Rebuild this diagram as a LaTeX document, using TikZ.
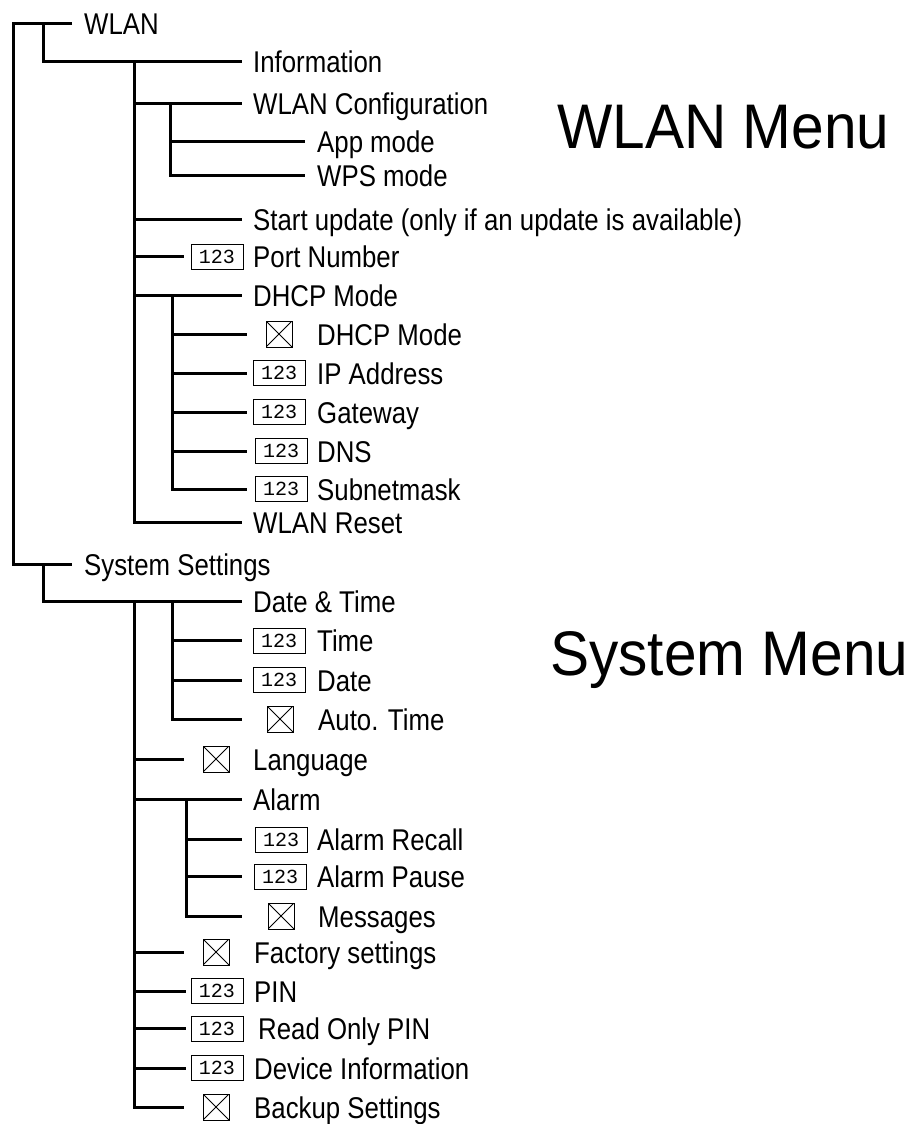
\documentclass[tikz,border=0pt]{standalone}
\usepackage{fontspec}
\setmainfont[FakeStretch=0.86]{Liberation Sans}
\newfontfamily\titlefont[FakeStretch=0.93]{Liberation Sans}
\setmonofont{Liberation Mono}
\begin{document}
\begin{tikzpicture}[x=1pt,y=-1pt,
  conn/.style={line width=3pt},
  lbl/.style={anchor=base west,inner sep=0pt,font=\fontsize{30}{32}\selectfont},
  title/.style={anchor=base west,inner sep=0pt,font=\titlefont\fontsize{63}{70}\selectfont},
  numbox/.style={draw,line width=0.9pt,minimum width=52pt,minimum height=25pt,inner sep=0pt,font=\ttfamily\fontsize{20}{20}\selectfont},
  chkbox/.style={draw,line width=0.9pt,minimum size=26pt,inner sep=0pt,
    path picture={\draw[line width=0.9pt] (path picture bounding box.north west) -- (path picture bounding box.south east)
      (path picture bounding box.north east) -- (path picture bounding box.south west);}}]
\useasboundingbox (0,0) rectangle (915,1124);
\newcommand\mybranch[4]{\coordinate (#1-a) at (#2,#3); \coordinate (#1-b) at (#4,#3); \draw[conn] (#1-a) -- (#1-b);}

% outer trunk
\coordinate (o1) at (72,24); \coordinate (o2) at (13,24); \coordinate (o3) at (13,564); \coordinate (o4) at (72,564);
\draw[conn] (o1) -- (o2) -- (o3) -- (o4);
\node[lbl] (wlan) at (84,35) {WLAN};
\node[lbl] (sys) at (84,575) {System Settings};

% WLAN sub
\coordinate (w0) at (43,24); \coordinate (winfo) at (242,62);
\draw[conn] (w0) |- (winfo);
\node[lbl] (info) at (253,73) {Information};
\coordinate (ta1) at (134,62); \coordinate (ta2) at (134,522); \coordinate (wreset) at (242,522);
\draw[conn] (ta1) -- (ta2) -- (wreset);
\node[lbl] (reset) at (253,533) {WLAN Reset};

\mybranch{wcfg}{134}{103}{242}
\node[lbl] (cfg) at (253,114) {WLAN Configuration};
\coordinate (tb1) at (170,103); \coordinate (tb2) at (170,175); \coordinate (wwps) at (305,175);
\draw[conn] (tb1) -- (tb2) -- (wwps);
\mybranch{wapp}{170}{141}{305}
\node[lbl] (app) at (317,152) {App mode};
\node[lbl] (wps) at (317,186) {WPS mode};

\mybranch{wupd}{134}{219}{242}
\node[lbl] (upd) at (253,230) {Start update (only if an update is available)};

\mybranch{wport}{134}{256}{184}
\node[numbox] (bport) at (217,257) {123};
\node[lbl] (port) at (253,267) {Port Number};

\mybranch{wdhcp}{134}{295}{242}
\node[lbl] (dhcp) at (253,306) {DHCP Mode};
\coordinate (tc1) at (172,295); \coordinate (tc2) at (172,489); \coordinate (wsub) at (247,489);
\draw[conn] (tc1) -- (tc2) -- (wsub);
\mybranch{wdm}{172}{334}{247}
\node[chkbox] (bdm) at (279,334) {};
\node[lbl] (dm) at (317,345) {DHCP Mode};
\mybranch{wip}{172}{373}{247}
\node[numbox] (bip) at (279,373) {123};
\node[lbl] (ip) at (317,384) {IP Address};
\mybranch{wgw}{172}{412}{247}
\node[numbox] (bgw) at (279,412) {123};
\node[lbl] (gw) at (317,423) {Gateway};
\mybranch{wdns}{172}{451}{247}
\node[numbox] (bdns) at (281,451) {123};
\node[lbl] (dns) at (317,462) {DNS};
\node[numbox] (bsub) at (281,489) {123};
\node[lbl] (sub) at (317,500) {Subnetmask};

% System sub
\coordinate (s0) at (43,564); \coordinate (sdt) at (242,601);
\draw[conn] (s0) |- (sdt);
\node[lbl] (dt) at (253,612) {Date \& Time};
\coordinate (td1) at (134,601); \coordinate (td2) at (134,1107); \coordinate (sbak) at (184,1107);
\draw[conn] (td1) -- (td2) -- (sbak);
\coordinate (te1) at (172,601); \coordinate (te2) at (172,719); \coordinate (sauto) at (242,719);
\draw[conn] (te1) -- (te2) -- (sauto);
\mybranch{stime}{172}{640}{242}
\node[numbox] (btime) at (279,641) {123};
\node[lbl] (time) at (317,651) {Time};
\mybranch{sdate}{172}{680}{242}
\node[numbox] (bdate) at (279,680) {123};
\node[lbl] (date) at (317,691) {Date};
\node[chkbox] (bauto) at (280,719) {};
\node[lbl] (auto) at (318,730) {Auto. Time};

\mybranch{slang}{134}{759}{184}
\node[chkbox] (blang) at (216,759) {};
\node[lbl] (lang) at (253,770) {Language};

\mybranch{salarm}{134}{799}{242}
\node[lbl] (alarm) at (253,810) {Alarm};
\coordinate (tf1) at (186,799); \coordinate (tf2) at (186,916); \coordinate (smsg) at (242,916);
\draw[conn] (tf1) -- (tf2) -- (smsg);
\mybranch{srec}{186}{839}{242}
\node[numbox] (brec) at (281,840) {123};
\node[lbl] (rec) at (317,850) {Alarm Recall};
\mybranch{spau}{186}{876}{242}
\node[numbox] (bpau) at (280,877) {123};
\node[lbl] (pau) at (317,887) {Alarm Pause};
\node[chkbox] (bmsg) at (281,916) {};
\node[lbl] (msg) at (318,927) {Messages};

\mybranch{sfac}{134}{952}{184}
\node[chkbox] (bfac) at (216,952) {};
\node[lbl] (fac) at (254,963) {Factory settings};
\mybranch{spin}{134}{991}{186}
\node[numbox] (bpin) at (217,991) {123};
\node[lbl] (pin) at (254,1002) {PIN};
\mybranch{srop}{134}{1028}{186}
\node[numbox] (brop) at (217,1029) {123};
\node[lbl] (rop) at (258,1039) {Read Only PIN};
\mybranch{sdev}{134}{1068}{186}
\node[numbox] (bdev) at (217,1068) {123};
\node[lbl] (dev) at (254,1079) {Device Information};
\node[chkbox] (bbak) at (216,1107) {};
\node[lbl] (bak) at (254,1118) {Backup Settings};

% titles
\node[title] (tw) at (557,148) {WLAN Menu};
\node[title] (ts) at (550,675) {System Menu};
\end{tikzpicture}
\end{document}
